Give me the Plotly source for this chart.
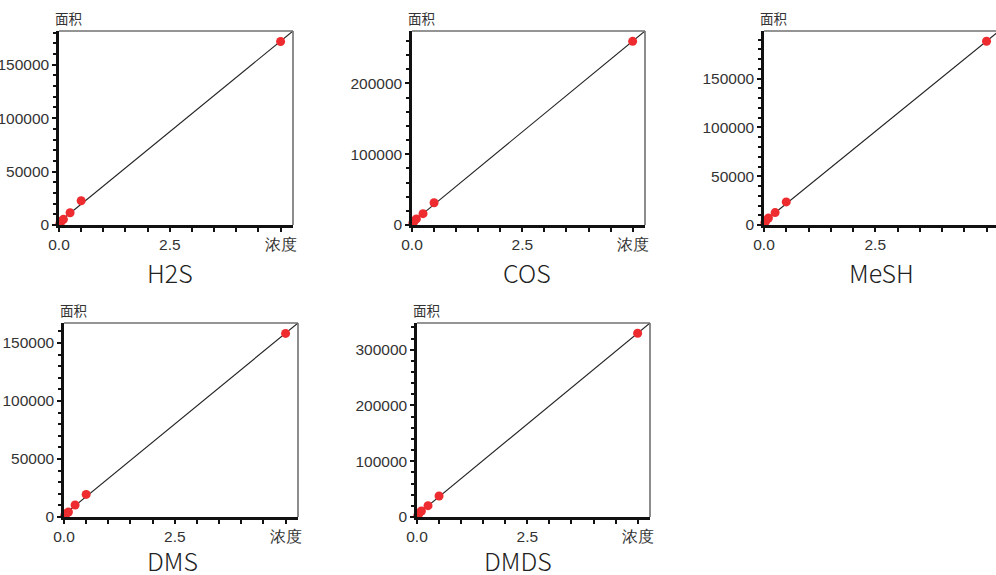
import numpy as np
import plotly.graph_objects as go

W, H = 996, 575

# ---- data ----
compounds = ["H2S", "COS", "MeSH", "DMS", "DMDS"]
conc = [0.02, 0.05, 0.1, 0.25, 0.5, 5.0]
area_h2s = [1500, 3500, 5300, 11500, 22700, 171800]
area_cos = [2800, 5500, 8600, 16000, 31500, 259500]
area_mesh = [2500, 4800, 7200, 12700, 23700, 188400]
area_dms = [1500, 3000, 4300, 10300, 19500, 158300]
area_dmds = [3000, 7000, 10800, 20300, 37600, 329400]
areas = [area_h2s, area_cos, area_mesh, area_dms, area_dmds]
y_major = [50000, 100000, 50000, 50000, 100000]
y_minor = [10000, 20000, 10000, 10000, 20000]
x_tickvals = [0, 2.5, 5.0]
x_ticktext = ["0.0", "2.5", "浓度"]
y_label = "面积"

# ---- layout (pixel boxes: left, right, top, bottom) ----
boxes = [(59, 293, 31, 225), (412, 645, 31, 225), (764, 999, 31, 225),
         (64, 298, 323, 517), (417, 650, 323, 517)]
title_pos = [(170, 272), (527, 272), (881, 272), (172, 560), (518, 560)]

TICKFONT = dict(family="Liberation Sans, Arial, sans-serif", size=15.5, color="#333333")
CJK = "Noto Sans CJK SC, sans-serif"

fig = go.Figure()
shapes, annotations = [], []

for i, (name, ys) in enumerate(zip(compounds, areas)):
    l, r, t, b = boxes[i]
    scale = (r - l) / 5.28  # px per unit concentration
    x_full = 5.28
    x_vis = min(r, W) - l
    x_max = x_vis / scale
    slope, intercept = np.polyfit(conc, ys, 1)
    y_top = slope * x_full + intercept

    k = "" if i == 0 else str(i + 1)
    xa, ya = "xaxis" + k, "yaxis" + k
    xr, yr = "x" + k, "y" + k

    fig.add_trace(go.Scatter(
        x=[0, x_full], y=[intercept, y_top], mode="lines",
        line=dict(color="#222222", width=1.1), xaxis=xr, yaxis=yr,
        showlegend=False, hoverinfo="skip"))
    fig.add_trace(go.Scatter(
        x=conc, y=ys, mode="markers",
        marker=dict(color="#ee2b2e", size=9, line=dict(width=0)),
        xaxis=xr, yaxis=yr, showlegend=False, cliponaxis=False))

    fig.update_layout(**{
        xa: dict(domain=[l / W, min(r, W) / W], range=[0, x_max], anchor=yr,
                 automargin=False,
                 tickmode="array", tickvals=x_tickvals, ticktext=x_ticktext,
                 ticks="outside", ticklen=4, tickwidth=1.5, tickcolor="#111111",
                 showline=True, linecolor="#111111", linewidth=2.5,
                 showgrid=False, zeroline=False, tickfont=TICKFONT,
                 minor=dict(dtick=0.5, tick0=0, ticks="outside", ticklen=4,
                            tickwidth=1.5, tickcolor="#111111", showgrid=False)),
        ya: dict(domain=[(H - b) / H, (H - t) / H], range=[0, y_top], anchor=xr,
                 automargin=False,
                 tickmode="linear", tick0=0, dtick=y_major[i], tickformat="d",
                 ticks="outside", ticklen=4, tickwidth=1.5, tickcolor="#111111",
                 showline=True, linecolor="#111111", linewidth=2.5,
                 showgrid=False, zeroline=False, tickfont=TICKFONT,
                 minor=dict(dtick=y_minor[i], tick0=0, ticks="outside", ticklen=3,
                            tickwidth=1.5, tickcolor="#111111", showgrid=False)),
    })

    # gray frame: top and right
    shapes.append(dict(type="line", xref=xr + " domain", yref=yr + " domain",
                       x0=0, x1=1, y0=1, y1=1,
                       line=dict(color="#707070", width=1.6), layer="above"))
    if r <= W:
        shapes.append(dict(type="line", xref=xr + " domain", yref=yr + " domain",
                           x0=1, x1=1, y0=0, y1=1,
                           line=dict(color="#707070", width=1.6), layer="above"))

    annotations.append(dict(text=y_label, xref="paper", yref="paper",
                            x=(l - 6) / W, y=(H - t + 1) / H, xanchor="left",
                            yanchor="bottom", showarrow=False,
                            font=dict(family=CJK, size=13.5, color="#333333")))
    cx, cy = title_pos[i]
    annotations.append(dict(text=name, xref="paper", yref="paper",
                            x=cx / W, y=(H - cy) / H, xanchor="center",
                            yanchor="middle", showarrow=False,
                            font=dict(family=CJK, size=25, color="#222222", weight=300)))

fig.update_layout(width=W, height=H, margin=dict(l=0, r=0, t=0, b=0, autoexpand=False),
                  paper_bgcolor="white", plot_bgcolor="white",
                  shapes=shapes, annotations=annotations)

fig.write_html("out.html", config={"displayModeBar": False},
               post_script="document.body.style.margin='0px';document.body.style.overflow='hidden';")
